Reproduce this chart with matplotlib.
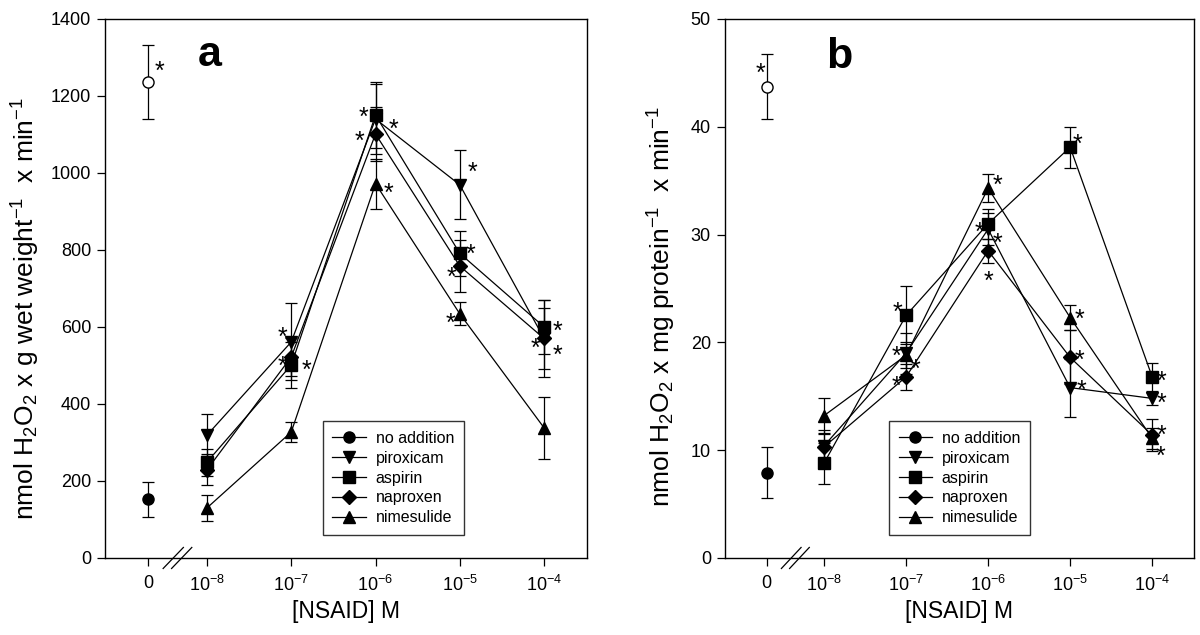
import numpy as np
import matplotlib
matplotlib.use("Agg")
import matplotlib.pyplot as plt
from matplotlib.lines import Line2D

plt.rcParams['font.family'] = ['Liberation Sans', 'DejaVu Sans']
plt.rcParams['mathtext.fontset'] = 'custom'
plt.rcParams['mathtext.rm'] = 'Liberation Sans'
plt.rcParams['mathtext.it'] = 'Liberation Sans:italic'
plt.rcParams['mathtext.bf'] = 'Liberation Sans:bold'

# concentrations (M); the control ("0") sits left of the axis break
conc = [1e-8, 1e-7, 1e-6, 1e-5, 1e-4]
zero_pos = -8.7
tick_labels = ["0", "10$^{-8}$", "10$^{-7}$", "10$^{-6}$", "10$^{-5}$", "10$^{-4}$"]
drugs = ["piroxicam", "aspirin", "naproxen", "nimesulide"]
drug_markers = ["v", "s", "D", "^"]

# panel a: nmol H2O2 / g wet weight / min
a_ctrl, a_ctrl_err = 152, 45
a_open, a_open_err = 1236, 97
a_mean = {
    "piroxicam":  [319, 561, 1140, 969, 570],
    "aspirin":    [249, 501, 1150, 791, 600],
    "naproxen":   [229, 522, 1101, 758, 570],
    "nimesulide": [130, 327, 972, 634, 338],
}
a_err = {
    "piroxicam":  [55, 100, 90, 90, 100],
    "aspirin":    [35, 60, 85, 58, 70],
    "naproxen":   [40, 50, 70, 67, 80],
    "nimesulide": [33, 25, 65, 30, 80],
}

# panel b: nmol H2O2 / mg protein / min
b_ctrl, b_ctrl_err = 7.9, 2.35
b_open, b_open_err = 43.7, 3.0
b_mean = {
    "piroxicam":  [10.4, 19.0, 30.5, 15.8, 14.8],
    "aspirin":    [8.8, 22.5, 31.0, 38.1, 16.8],
    "naproxen":   [10.3, 16.8, 28.5, 18.6, 11.4],
    "nimesulide": [13.2, 18.8, 34.3, 22.3, 11.1],
}
b_err = {
    "piroxicam":  [1.5, 1.9, 1.5, 2.7, 0.6],
    "aspirin":    [1.9, 2.7, 1.4, 1.9, 1.3],
    "naproxen":   [1.2, 1.2, 1.1, 2.5, 1.5],
    "nimesulide": [1.6, 1.2, 1.3, 1.2, 1.0],
}

# significance stars: (drug, index, dx, dy) in points; drug None = open circle
a_stars = [
    (None, 0, 8, 13),
    ("piroxicam", 1, -6.5, 8), ("naproxen", 1, -6.5, -1.5), ("aspirin", 1, 11, 1.5),
    ("aspirin", 2, -9, 3.5), ("aspirin", 2, 13, -5), ("naproxen", 2, -11.5, 0),
    ("nimesulide", 2, 9.5, -2),
    ("piroxicam", 3, 9.5, 14), ("aspirin", 3, 7.5, 4.5), ("naproxen", 3, -6, -3),
    ("nimesulide", 3, -6.5, -2),
    ("aspirin", 4, 10, 2), ("naproxen", 4, -6.5, -2), ("naproxen", 4, 9.5, -7),
]
b_stars = [
    (None, 0, -4.5, 15),
    ("aspirin", 1, -6, 7), ("piroxicam", 1, -7, 3), ("nimesulide", 1, 6.5, -5),
    ("naproxen", 1, -7, -1.5),
    ("nimesulide", 2, 7, 7), ("aspirin", 2, -6.5, -1.5), ("piroxicam", 2, 7, -5),
    ("naproxen", 2, 0, -17),
    ("aspirin", 3, 5.5, 7), ("nimesulide", 3, 6.5, 3.5), ("naproxen", 3, 6.5, 3),
    ("piroxicam", 3, 8, 3),
    ("aspirin", 4, 6.5, 1.5), ("piroxicam", 4, 6.5, 1.5), ("naproxen", 4, 7, 5),
    ("nimesulide", 4, 6, -8),
]

x_drug = np.log10(conc)
x_ticks = [zero_pos] + list(x_drug)

fig = plt.figure(figsize=(12, 6.35), dpi=100)
ax_a = fig.add_axes([0.0875, 0.1213, 0.4017, 0.849])
ax_b = fig.add_axes([0.604, 0.1213, 0.391, 0.849])

panels = [
    (ax_a, "a", (0.193, 0.912), 0.462, a_ctrl, a_ctrl_err, a_open, a_open_err, a_mean, a_err,
     a_stars, 1400, 200, "nmol H$_2$O$_2$ x g wet weight$^{-1}$  x min$^{-1}$", 0.452),
    (ax_b, "b", (0.215, 0.909), 0.467, b_ctrl, b_ctrl_err, b_open, b_open_err, b_mean, b_err,
     b_stars, 50, 10, "nmol H$_2$O$_2$ x mg protein$^{-1}$  x min$^{-1}$", 0.35),
]

ebkw = dict(color="black", lw=0.9, elinewidth=0.9, capsize=4, capthick=0.9,
            markeredgecolor="black")
star_fs = 18

for ax, letter, letter_xy, ylab_y, ctrl, ctrl_err, opn, opn_err, mean, err, stars, ymax, ystep, ylabel, legx in panels:
    ax.errorbar([zero_pos], [ctrl], yerr=[ctrl_err], fmt="o", mfc="black", ms=8, **ebkw)
    ax.errorbar([zero_pos], [opn], yerr=[opn_err], fmt="o", mfc="white", ms=8, **ebkw)
    handles = [Line2D([], [], color="black", lw=0.9, marker="o", ms=8, mfc="black")]
    for d, m in zip(drugs, drug_markers):
        msz = 7 if m == "D" else 8
        ax.errorbar(x_drug, mean[d], yerr=err[d], fmt="-" + m, mfc="black", ms=msz, **ebkw)
        handles.append(Line2D([], [], color="black", lw=0.9, marker=m, ms=msz, mfc="black"))
    for d, i, dx, dy in stars:
        if d is None:
            xy = (zero_pos, opn)
        else:
            xy = (x_drug[i], mean[d][i])
        ax.annotate("*", xy=xy, xytext=(dx, dy - 0.58 * star_fs), textcoords="offset points",
                    ha="center", va="baseline", fontsize=star_fs)

    ax.set_xlim(-9.21, -3.49)
    ax.set_ylim(0, ymax)
    ax.set_xticks(x_ticks)
    ax.set_xticklabels(tick_labels)
    ax.set_yticks(np.arange(0, ymax + ystep / 2, ystep))
    ax.tick_params(direction="out", length=6, width=0.9, labelsize=13,
                   top=False, right=False, pad=4)
    ax.tick_params(axis="x", pad=6)
    for s in ax.spines.values():
        s.set_linewidth(1.0)
    ax.set_xlabel("[NSAID] M", fontsize=16.5, labelpad=4)
    ax.set_ylabel(ylabel, fontsize=19, labelpad=6)
    ax.yaxis.set_label_coords(-0.13 if letter == "a" else -0.1, ylab_y)

    ax.text(letter_xy[0], letter_xy[1], letter, transform=ax.transAxes, fontsize=31,
            fontweight="bold", ha="left", va="baseline")

    # axis break marks
    for off in (0.30, 0.40):
        xb = zero_pos + off
        ax.plot([xb - 0.12, xb + 0.12], [-0.0195 * ymax, 0.0195 * ymax], color="black",
                lw=0.9, clip_on=False)

    leg = ax.legend(handles, ["no addition"] + drugs, loc="lower left",
                    bbox_to_anchor=(legx, 0.043), borderaxespad=0, fontsize=11.5,
                    frameon=True, fancybox=False, edgecolor="black",
                    handlelength=2.1, borderpad=0.6, labelspacing=0.3,
                    handletextpad=0.6)
    leg.get_frame().set_linewidth(1.0)

fig.savefig("out.png", dpi=100)
